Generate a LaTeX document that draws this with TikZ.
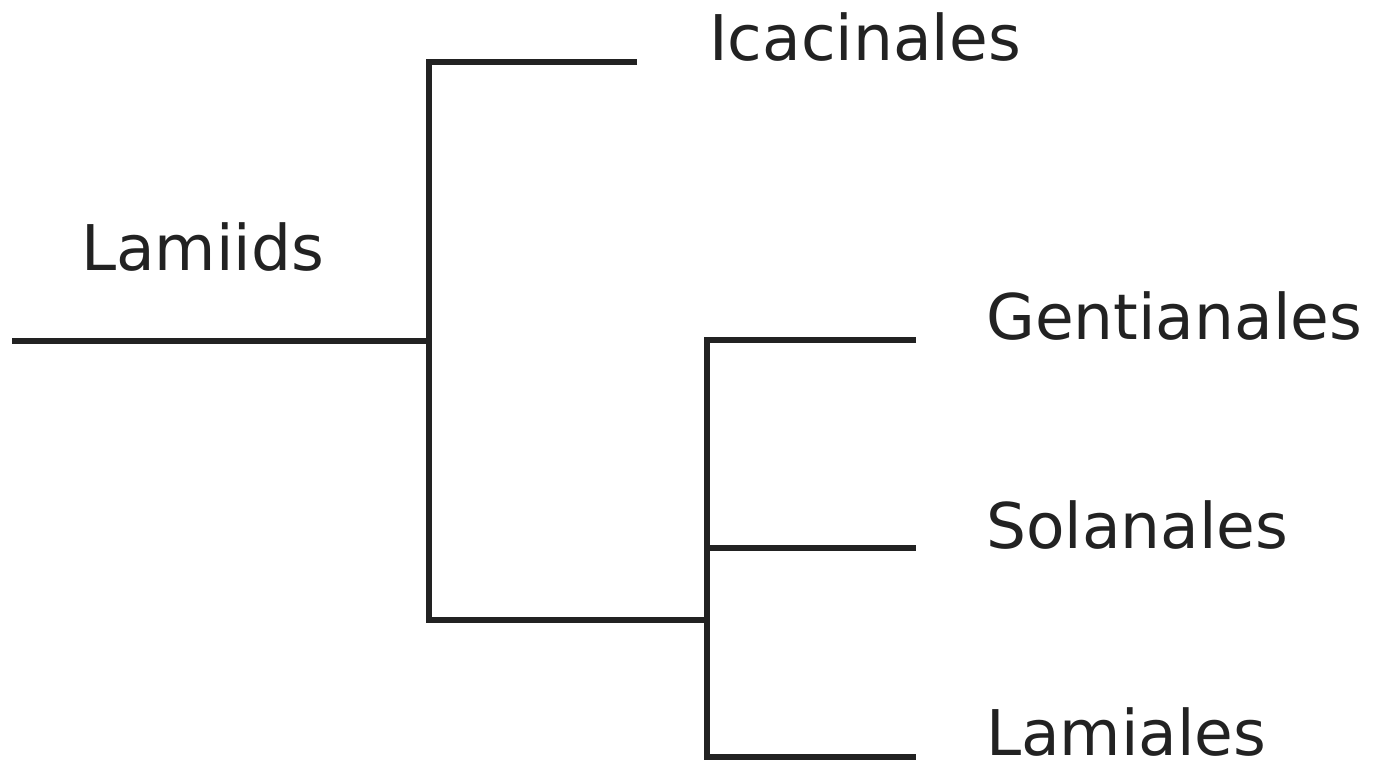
\documentclass[tikz,border=0pt]{standalone}
\usepackage{fontspec}
\setmainfont{DejaVu Sans}
\definecolor{ink}{HTML}{222222}
\begin{document}
\begin{tikzpicture}[x=1pt,y=1pt,
  branch/.style={draw=ink,line width=6pt,line join=miter,line cap=butt},
  taxon/.style={anchor=base west,inner sep=0pt,text=ink,font=\fontsize{63}{75}\selectfont}]
\useasboundingbox (0,0) rectangle (1379,762);
% junction coordinates (y = 762 - pixel y)
\coordinate (root) at (12,421);
\coordinate (n1) at (429,421);
\coordinate (n1top) at (429,700);
\coordinate (n1bot) at (429,142);
\coordinate (icaend) at (637,700);
\coordinate (n2) at (707,142);
\coordinate (n2top) at (707,422);
\coordinate (n2mid) at (707,214);
\coordinate (n2bot) at (707,5);
\coordinate (genend) at (916,422);
\coordinate (solend) at (916,214);
\coordinate (lamend) at (916,5);
% labels
\node[taxon] (lamiids) at (81,491) {Lamiids};
\node[taxon] (ica) at (709,701) {Icacinales};
\node[taxon] (gen) at (986,422) {Gentianales};
\node[taxon] (sol) at (986,213) {Solanales};
\node[taxon] (lam) at (986,6) {Lamiales};
% tree
\draw[branch] (root) -- (n1);
\draw[branch] (icaend) -- (n1top) -- (n1bot) -- (n2);
\draw[branch] (genend) -- (n2top) -- (n2bot) -- (lamend);
\draw[branch] (n2mid) -- (solend);
\end{tikzpicture}
\end{document}
